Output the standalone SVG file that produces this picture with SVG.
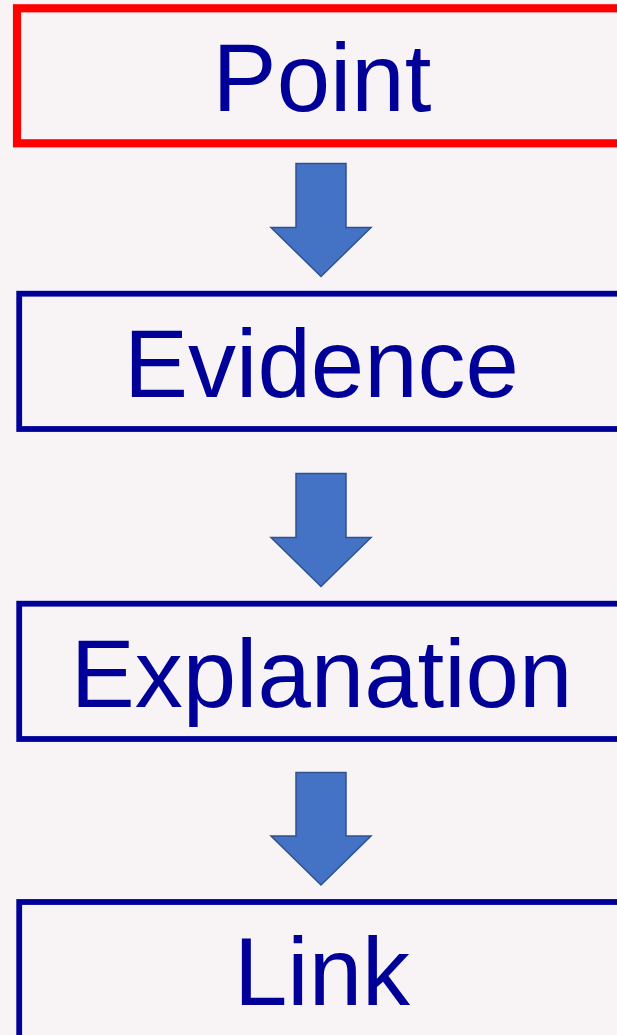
<svg xmlns="http://www.w3.org/2000/svg" width="617" height="1035" viewBox="0 0 617 1035">
<style>
.box{fill:none;stroke:#000099;stroke-width:5.8}
.lbl{font-family:"Liberation Sans",Arial,sans-serif;font-size:96px;fill:#000099;text-anchor:middle}
.arr{fill:#4472C4;stroke:#2F528F;stroke-width:1.5;stroke-linejoin:miter}
</style>
<rect width="617" height="1035" fill="#F8F4F6"/>
<g id="connectors">
<polygon class="arr" points="296,163.5 346,163.5 346,227.5 371,227.5 321,276.5 271,227.5 296,227.5"/>
<polygon class="arr" points="296,473.5 346,473.5 346,537.5 371,537.5 321,586.5 271,537.5 296,537.5"/>
<polygon class="arr" points="296,772.5 346,772.5 346,836 371,836 321,885 271,836 296,836"/>
</g>
<g id="point">
<rect x="17" y="8.3" width="640" height="135" fill="none" stroke="#FF0000" stroke-width="8.2"/>
<text class="lbl" x="322" y="111">Point</text>
</g>
<g id="evidence">
<rect class="box" x="19.2" y="293.7" width="640" height="135.3"/>
<text class="lbl" x="321.5" y="396.7">Evidence</text>
</g>
<g id="explanation">
<rect class="box" x="19.2" y="603.7" width="640" height="135.3"/>
<text class="lbl" x="321.5" y="706.7">Explanation</text>
</g>
<g id="link">
<rect class="box" x="19.2" y="902" width="640" height="160"/>
<text class="lbl" x="322" y="1005">Link</text>
</g>
</svg>
